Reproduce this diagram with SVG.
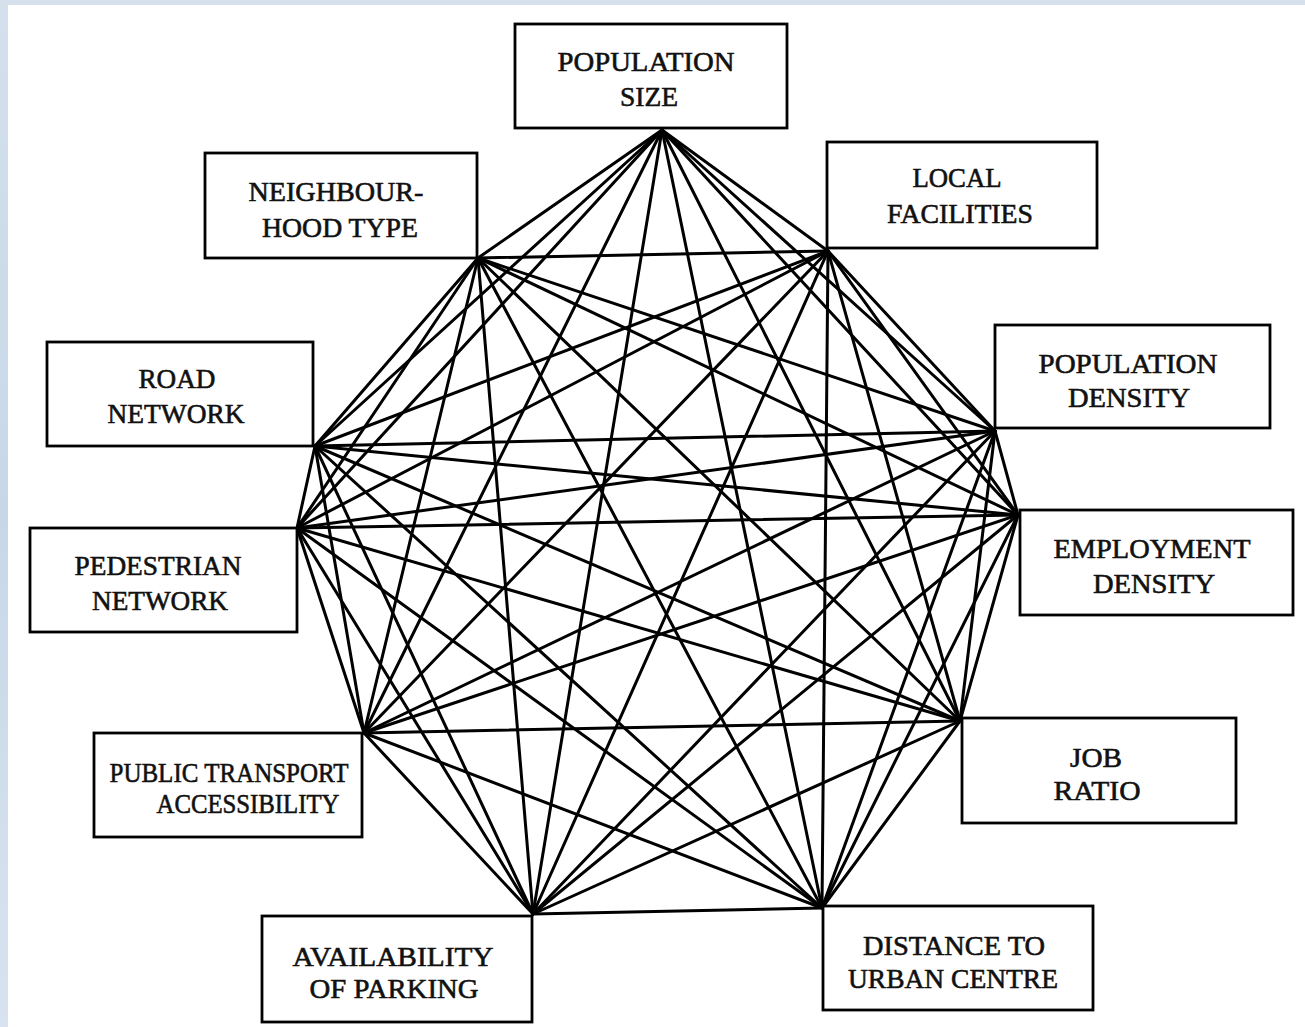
<svg xmlns="http://www.w3.org/2000/svg" width="1305" height="1027" viewBox="0 0 1305 1027">
<defs>
<linearGradient id="edge" x1="0" y1="0" x2="0" y2="1">
<stop offset="0" stop-color="#d4e0ec"/>
<stop offset="0.5" stop-color="#c8d7e7"/>
<stop offset="1" stop-color="#d8e3ef"/>
</linearGradient>
<style>
.box{fill:#ffffff;stroke:#000;stroke-width:2.8}
.lbl{font-family:"Liberation Serif","Times New Roman",serif;font-size:28px;fill:#111;stroke:#111;stroke-width:0.6;text-anchor:middle}
#connectors line{stroke:#000;stroke-width:3;stroke-linecap:round}
</style>
</defs>
<rect x="0" y="0" width="1305" height="1027" fill="#ffffff"/>
<rect x="0" y="0" width="1305" height="5" fill="#d5e0ec"/>
<rect x="0" y="0" width="8" height="1027" fill="url(#edge)"/>

<g id="connectors">
<line x1="662" y1="130" x2="828" y2="251"/>
<line x1="662" y1="130" x2="995" y2="431"/>
<line x1="662" y1="130" x2="1018" y2="515"/>
<line x1="662" y1="130" x2="960" y2="721"/>
<line x1="662" y1="130" x2="822" y2="908"/>
<line x1="662" y1="130" x2="533" y2="914"/>
<line x1="662" y1="130" x2="364" y2="733"/>
<line x1="662" y1="130" x2="297" y2="528"/>
<line x1="662" y1="130" x2="315" y2="446"/>
<line x1="662" y1="130" x2="478" y2="258"/>
<line x1="828" y1="251" x2="995" y2="431"/>
<line x1="828" y1="251" x2="1018" y2="515"/>
<line x1="828" y1="251" x2="960" y2="721"/>
<line x1="828" y1="251" x2="822" y2="908"/>
<line x1="828" y1="251" x2="533" y2="914"/>
<line x1="828" y1="251" x2="364" y2="733"/>
<line x1="828" y1="251" x2="297" y2="528"/>
<line x1="828" y1="251" x2="315" y2="446"/>
<line x1="828" y1="251" x2="478" y2="258"/>
<line x1="995" y1="431" x2="1018" y2="515"/>
<line x1="995" y1="431" x2="960" y2="721"/>
<line x1="995" y1="431" x2="822" y2="908"/>
<line x1="995" y1="431" x2="533" y2="914"/>
<line x1="995" y1="431" x2="364" y2="733"/>
<line x1="995" y1="431" x2="297" y2="528"/>
<line x1="995" y1="431" x2="315" y2="446"/>
<line x1="995" y1="431" x2="478" y2="258"/>
<line x1="1018" y1="515" x2="960" y2="721"/>
<line x1="1018" y1="515" x2="822" y2="908"/>
<line x1="1018" y1="515" x2="533" y2="914"/>
<line x1="1018" y1="515" x2="364" y2="733"/>
<line x1="1018" y1="515" x2="297" y2="528"/>
<line x1="1018" y1="515" x2="315" y2="446"/>
<line x1="1018" y1="515" x2="478" y2="258"/>
<line x1="960" y1="721" x2="822" y2="908"/>
<line x1="960" y1="721" x2="533" y2="914"/>
<line x1="960" y1="721" x2="364" y2="733"/>
<line x1="960" y1="721" x2="297" y2="528"/>
<line x1="960" y1="721" x2="315" y2="446"/>
<line x1="960" y1="721" x2="478" y2="258"/>
<line x1="822" y1="908" x2="533" y2="914"/>
<line x1="822" y1="908" x2="364" y2="733"/>
<line x1="822" y1="908" x2="297" y2="528"/>
<line x1="822" y1="908" x2="315" y2="446"/>
<line x1="822" y1="908" x2="478" y2="258"/>
<line x1="533" y1="914" x2="364" y2="733"/>
<line x1="533" y1="914" x2="297" y2="528"/>
<line x1="533" y1="914" x2="315" y2="446"/>
<line x1="533" y1="914" x2="478" y2="258"/>
<line x1="364" y1="733" x2="297" y2="528"/>
<line x1="364" y1="733" x2="315" y2="446"/>
<line x1="364" y1="733" x2="478" y2="258"/>
<line x1="297" y1="528" x2="315" y2="446"/>
<line x1="297" y1="528" x2="478" y2="258"/>
<line x1="315" y1="446" x2="478" y2="258"/>
</g>

<g id="population-size">
<rect class="box" x="515" y="24" width="272" height="104"/>
<text class="lbl" x="646" y="71" textLength="177" lengthAdjust="spacingAndGlyphs">POPULATION</text>
<text class="lbl" x="649" y="106" textLength="58" lengthAdjust="spacingAndGlyphs">SIZE</text>
</g>
<g id="neighbourhood-type">
<rect class="box" x="205" y="153" width="272" height="105"/>
<text class="lbl" x="336" y="201" textLength="175" lengthAdjust="spacingAndGlyphs">NEIGHBOUR-</text>
<text class="lbl" x="340" y="237" textLength="156" lengthAdjust="spacingAndGlyphs">HOOD TYPE</text>
</g>
<g id="local-facilities">
<rect class="box" x="827" y="142" width="270" height="106"/>
<text class="lbl" x="957" y="187" textLength="89" lengthAdjust="spacingAndGlyphs">LOCAL</text>
<text class="lbl" x="960" y="223" textLength="146" lengthAdjust="spacingAndGlyphs">FACILITIES</text>
</g>
<g id="road-network">
<rect class="box" x="47" y="342" width="266" height="104"/>
<text class="lbl" x="177" y="388" textLength="77" lengthAdjust="spacingAndGlyphs">ROAD</text>
<text class="lbl" x="176" y="423" textLength="137" lengthAdjust="spacingAndGlyphs">NETWORK</text>
</g>
<g id="population-density">
<rect class="box" x="995" y="325" width="275" height="103"/>
<text class="lbl" x="1128" y="373" textLength="179" lengthAdjust="spacingAndGlyphs">POPULATION</text>
<text class="lbl" x="1129" y="407" textLength="122" lengthAdjust="spacingAndGlyphs">DENSITY</text>
</g>
<g id="pedestrian-network">
<rect class="box" x="30" y="528" width="267" height="104"/>
<text class="lbl" x="158" y="575" textLength="167" lengthAdjust="spacingAndGlyphs">PEDESTRIAN</text>
<text class="lbl" x="160" y="610" textLength="136" lengthAdjust="spacingAndGlyphs">NETWORK</text>
</g>
<g id="employment-density">
<rect class="box" x="1020" y="510" width="273" height="105"/>
<text class="lbl" x="1152" y="558" textLength="197" lengthAdjust="spacingAndGlyphs">EMPLOYMENT</text>
<text class="lbl" x="1154" y="593" textLength="122" lengthAdjust="spacingAndGlyphs">DENSITY</text>
</g>
<g id="public-transport-accessibility">
<rect class="box" x="94" y="733" width="268" height="104"/>
<text class="lbl" x="229" y="782" textLength="239" lengthAdjust="spacingAndGlyphs">PUBLIC TRANSPORT</text>
<text class="lbl" x="248" y="813" textLength="183" lengthAdjust="spacingAndGlyphs">ACCESSIBILITY</text>
</g>
<g id="job-ratio">
<rect class="box" x="962" y="718" width="274" height="105"/>
<text class="lbl" x="1096" y="767" textLength="52" lengthAdjust="spacingAndGlyphs">JOB</text>
<text class="lbl" x="1097" y="800" textLength="87" lengthAdjust="spacingAndGlyphs">RATIO</text>
</g>
<g id="availability-of-parking">
<rect class="box" x="262" y="916" width="270" height="106"/>
<text class="lbl" x="393" y="966" textLength="201" lengthAdjust="spacingAndGlyphs">AVAILABILITY</text>
<text class="lbl" x="394" y="998" textLength="169" lengthAdjust="spacingAndGlyphs">OF PARKING</text>
</g>
<g id="distance-to-urban-centre">
<rect class="box" x="823" y="906" width="270" height="104"/>
<text class="lbl" x="954" y="955" textLength="182" lengthAdjust="spacingAndGlyphs">DISTANCE TO</text>
<text class="lbl" x="953" y="988" textLength="210" lengthAdjust="spacingAndGlyphs">URBAN CENTRE</text>
</g>
</svg>
